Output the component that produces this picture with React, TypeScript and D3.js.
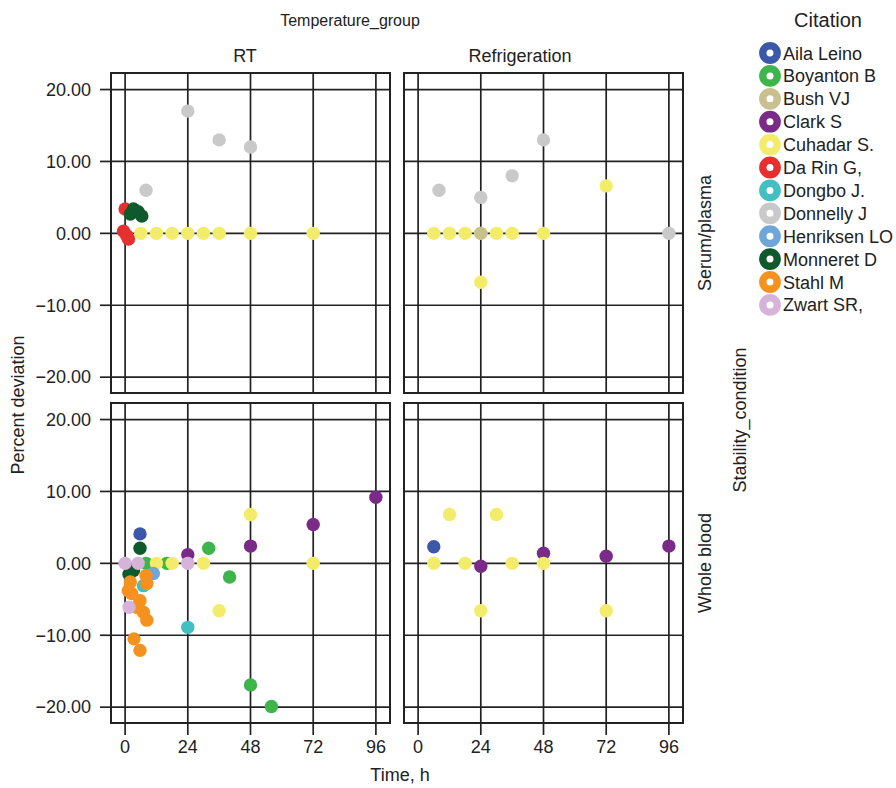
import React, { useEffect, useRef } from 'react';
import * as d3 from 'd3';

const citations = ['Aila Leino', 'Boyanton B', 'Bush VJ', 'Clark S', 'Cuhadar S.', 'Da Rin G,',
  'Dongbo J.', 'Donnelly J', 'Henriksen LO', 'Monneret D', 'Stahl M', 'Zwart SR,']
const citationColors = ['#3b59a8', '#3db54b', '#c8c08e', '#7a2a87', '#f3ec6a', '#e6302f',
  '#41bfc2', '#c9c9c9', '#6fa6da', '#0f5a2c', '#f5921f', '#d6b4d9']

const temperatureGroups = ['RT', 'Refrigeration']
const stabilityConditions = ['Serum/plasma', 'Whole blood']
const timeTicks = [0, 24, 48, 72, 96]
const deviationTicks = [20, 10, 0, -10, -20]

// [citation, time h, percent deviation], in drawing order
const serumRT: [string, number, number][] = [
  ['Donnelly J', 24, 17], ['Donnelly J', 36, 13], ['Donnelly J', 48, 12], ['Donnelly J', 8, 6],
  ['Cuhadar S.', 6, 0], ['Cuhadar S.', 12, 0], ['Cuhadar S.', 18, 0], ['Cuhadar S.', 24, 0],
  ['Cuhadar S.', 30, 0], ['Cuhadar S.', 36, 0], ['Cuhadar S.', 48, 0], ['Cuhadar S.', 72, 0],
  ['Da Rin G,', 0, 3.4], ['Da Rin G,', -0.6, 0.3], ['Da Rin G,', 0.6, -0.3], ['Da Rin G,', 1.3, -0.8],
  ['Monneret D', 2, 2.7], ['Monneret D', 3.2, 3.4], ['Monneret D', 5, 3], ['Monneret D', 6.4, 2.4],
]
const serumRefrig: [string, number, number][] = [
  ['Donnelly J', 8, 6], ['Donnelly J', 24, 5], ['Donnelly J', 36, 8], ['Donnelly J', 48, 13], ['Donnelly J', 96, 0],
  ['Cuhadar S.', 6, 0], ['Cuhadar S.', 12, 0], ['Cuhadar S.', 18, 0], ['Cuhadar S.', 24, 0],
  ['Cuhadar S.', 30, 0], ['Cuhadar S.', 36, 0], ['Cuhadar S.', 48, 0], ['Cuhadar S.', 24, -6.8],
  ['Cuhadar S.', 72, 6.6],
  ['Bush VJ', 24, 0],
]
const wholeRT: [string, number, number][] = [
  ['Boyanton B', 8, 0], ['Boyanton B', 16, 0], ['Boyanton B', 32, 2.1], ['Boyanton B', 40, -1.9],
  ['Boyanton B', 48, -16.9], ['Boyanton B', 56, -19.9],
  ['Cuhadar S.', 12, 0], ['Cuhadar S.', 18, 0], ['Cuhadar S.', 30, 0], ['Cuhadar S.', 48, 6.8],
  ['Cuhadar S.', 72, 0], ['Cuhadar S.', 36, -6.6],
  ['Clark S', 24, 1.2], ['Clark S', 48, 2.4], ['Clark S', 72, 5.4], ['Clark S', 96, 9.2],
  ['Aila Leino', 5.7, 4.1],
  ['Monneret D', 5.7, 2.1], ['Monneret D', 3.2, -1], ['Monneret D', 1.5, -1.5],
  ['Dongbo J.', 24, -8.9], ['Dongbo J.', 7, -3.1],
  ['Henriksen LO', 10.8, -1.4],
  ['Zwart SR,', 0, 0], ['Zwart SR,', 5, 0], ['Zwart SR,', 24, 0],
  ['Stahl M', 2, -2.6], ['Stahl M', 8, -1.7], ['Stahl M', 8.3, -2.8], ['Stahl M', 1.2, -3.8],
  ['Stahl M', 2.5, -4.2], ['Stahl M', 5.7, -5.2], ['Stahl M', 4.4, -6.1], ['Stahl M', 7, -6.8],
  ['Stahl M', 8.3, -7.9], ['Stahl M', 3.4, -10.5], ['Stahl M', 5.7, -12.1],
  ['Zwart SR,', 1.5, -6.1],
]
const wholeRefrig: [string, number, number][] = [
  ['Aila Leino', 6, 2.3],
  ['Clark S', 24, -0.4], ['Clark S', 48, 1.4], ['Clark S', 72, 1.0], ['Clark S', 96, 2.4],
  ['Cuhadar S.', 6, 0], ['Cuhadar S.', 18, 0], ['Cuhadar S.', 36, 0], ['Cuhadar S.', 48, 0],
  ['Cuhadar S.', 12, 6.8], ['Cuhadar S.', 30, 6.8], ['Cuhadar S.', 24, -6.6], ['Cuhadar S.', 72, -6.6],
]

const panelData = [[serumRT, serumRefrig], [wholeRT, wholeRefrig]]

const font = '"Liberation Sans", Arial, sans-serif'
const ink = '#222'

const App = () => {
  const ref = useRef<SVGSVGElement>(null)

  useEffect(() => {
    const svg = d3.select(ref.current)
    svg.selectAll('*').remove()

    const pw = 279, ph = 320
    const colLeft = [111, 404]
    const rowTop = [73, 403]
    const stripX = [245, 520]

    const x = d3.scaleLinear().domain([-5.4, 101.4]).range([0, pw])
    const y = d3.scaleLinear().domain([-22.2, 22.3]).range([ph, 0])
    const color = d3.scaleOrdinal<string, string>().domain(citations).range(citationColors)
    const fmt = d3.format('.2f')

    svg.append('rect').attr('width', 896).attr('height', 788).attr('fill', '#fff')

    // titles
    svg.append('text').attr('x', 350).attr('y', 26).attr('text-anchor', 'middle')
      .attr('font-size', 16).text('Temperature_group')
    temperatureGroups.forEach((t, i) => {
      svg.append('text').attr('x', stripX[i]).attr('y', 62).attr('text-anchor', 'middle')
        .attr('font-size', 18).text(t)
    })
    stabilityConditions.forEach((c, j) => {
      const cy = rowTop[j] + ph / 2
      svg.append('text').attr('transform', `translate(711,${cy}) rotate(-90)`)
        .attr('text-anchor', 'middle').attr('font-size', 18).text(c)
    })
    svg.append('text').attr('transform', 'translate(746,420) rotate(-90)')
      .attr('text-anchor', 'middle').attr('font-size', 18).text('Stability_condition')
    svg.append('text').attr('transform', 'translate(24,405) rotate(-90)')
      .attr('text-anchor', 'middle').attr('font-size', 18).text('Percent deviation')
    svg.append('text').attr('x', 400).attr('y', 781).attr('text-anchor', 'middle')
      .attr('font-size', 18).text('Time, h')

    panelData.forEach((row, j) => {
      row.forEach((pts, i) => {
        const g = svg.append('g').attr('transform', `translate(${colLeft[i]},${rowTop[j]})`)

        // grid at every tick
        g.selectAll('.vgrid').data(timeTicks).join('line').attr('class', 'vgrid')
          .attr('x1', d => x(d)).attr('x2', d => x(d)).attr('y1', 0).attr('y2', ph)
          .attr('stroke', ink).attr('stroke-width', 1.7)
        g.selectAll('.hgrid').data(deviationTicks).join('line').attr('class', 'hgrid')
          .attr('x1', 0).attr('x2', pw).attr('y1', d => y(d)).attr('y2', d => y(d))
          .attr('stroke', ink).attr('stroke-width', 1.7)

        g.append('rect').attr('width', pw).attr('height', ph)
          .attr('fill', 'none').attr('stroke', ink).attr('stroke-width', 2)

        if (i === 0) {
          g.selectAll('.ytick').data(deviationTicks).join('line').attr('class', 'ytick')
            .attr('x1', -11).attr('x2', 0).attr('y1', d => y(d)).attr('y2', d => y(d))
            .attr('stroke', ink).attr('stroke-width', 1.7)
          g.selectAll('.ylab').data(deviationTicks).join('text').attr('class', 'ylab')
            .attr('x', -20).attr('y', d => y(d)).attr('dy', '0.35em')
            .attr('text-anchor', 'end').attr('font-size', 18).text(d => fmt(d))
        }
        if (j === 1) {
          g.selectAll('.xtick').data(timeTicks).join('line').attr('class', 'xtick')
            .attr('x1', d => x(d)).attr('x2', d => x(d)).attr('y1', ph).attr('y2', ph + 12)
            .attr('stroke', ink).attr('stroke-width', 1.7)
          g.selectAll('.xlab').data(timeTicks).join('text').attr('class', 'xlab')
            .attr('x', d => x(d)).attr('y', ph + 30)
            .attr('text-anchor', 'middle').attr('font-size', 18).text(d => d)
        }

        g.selectAll('.pt').data(pts).join('circle').attr('class', 'pt')
          .attr('cx', d => x(d[1])).attr('cy', d => y(d[2])).attr('r', 6.7)
          .attr('fill', d => color(d[0]))
      })
    })

    // legend
    const lg = svg.append('g')
    lg.append('text').attr('x', 828).attr('y', 27).attr('text-anchor', 'middle')
      .attr('font-size', 20).text('Citation')
    citations.forEach((c, k) => {
      const cy = 53 + k * 22.9
      lg.append('circle').attr('cx', 770).attr('cy', cy).attr('r', 7.2)
        .attr('fill', '#fff').attr('stroke', color(c)).attr('stroke-width', 7.4)
      lg.append('text').attr('x', 783).attr('y', cy + 6.5).attr('font-size', 18).text(c)
    })
  }, [])

  return (
    <svg ref={ref} width={896} height={788}
      style={{ position: 'absolute', left: 0, top: 0, fontFamily: font, fill: ink }} />
  )
}

export default App
